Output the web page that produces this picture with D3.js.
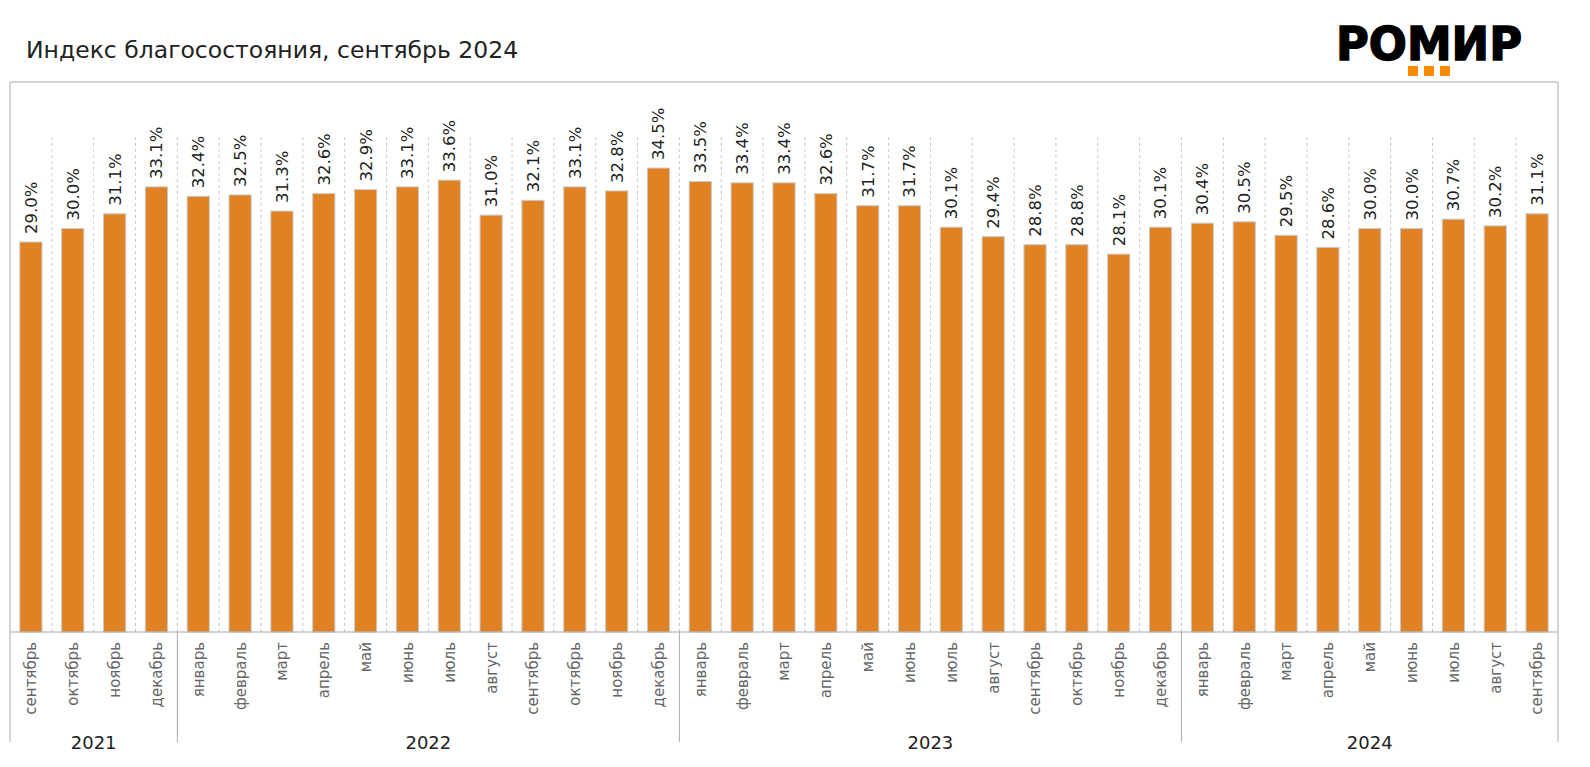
<!DOCTYPE html>
<html><head><meta charset="utf-8">
<script src="https://cdn.jsdelivr.net/npm/d3@7"></script>
<style>body{margin:0;background:#fff;}svg{display:block;font-family:"DejaVu Sans",sans-serif;}</style>
</head><body>
<svg id="c" width="1590" height="767"></svg>
<script>
const years = ["2021","2022","2023","2024"];
const months = [
  ["сентябрь","октябрь","ноябрь","декабрь"],
  ["январь","февраль","март","апрель","май","июнь","июль","август","сентябрь","октябрь","ноябрь","декабрь"],
  ["январь","февраль","март","апрель","май","июнь","июль","август","сентябрь","октябрь","ноябрь","декабрь"],
  ["январь","февраль","март","апрель","май","июнь","июль","август","сентябрь"]
];
const values = [
  29.0,30.0,31.1,33.1,
  32.4,32.5,31.3,32.6,32.9,33.1,33.6,31.0,32.1,33.1,32.8,34.5,
  33.5,33.4,33.4,32.6,31.7,31.7,30.1,29.4,28.8,28.8,28.1,30.1,
  30.4,30.5,29.5,28.6,30.0,30.0,30.7,30.2,31.1
];

const data = [];
months.forEach((ms, yi) => ms.forEach(m => data.push({year: years[yi], month: m})));
data.forEach((d, i) => { d.value = values[i]; d.key = i; });

const svg = d3.select("#c");
const L = 10, R = 1558, T = 82, B = 632, B2 = 742;

const x = d3.scaleBand().domain(data.map(d => d.key)).range([L, R]).paddingInner(0.47).paddingOuter(0.235);
const step = x.step();
const y = d3.scaleLinear().domain([0, 40.9]).range([B, T]);

// title
svg.append("text").attr("x", 26).attr("y", 58).attr("font-size", 23.5).attr("fill", "#222")
  .text("Индекс благосостояния, сентябрь 2024");

// logo
svg.append("text").attr("x", 1429).attr("y", 60).attr("text-anchor", "middle")
  .attr("font-family", "'DejaVu Sans', sans-serif").attr("font-weight", "bold").attr("font-size", 46)
  .attr("textLength", 186).attr("lengthAdjust", "spacingAndGlyphs")
  .attr("stroke", "#000").attr("stroke-width", 1.5)
  .attr("fill", "#000").text("РОМИР");
[1408, 1424, 1440].forEach(px => svg.append("rect").attr("x", px).attr("y", 66).attr("width", 10).attr("height", 10).attr("fill", "#FF8A00"));

// frame
svg.append("path").attr("d", `M${L},${B2}V${T}H${R}V${B2}`).attr("fill", "none").attr("stroke", "#aaa").attr("stroke-width", 1);

// dashed gridlines between bands
const gx = d3.range(1, data.length).map(i => L + i * step);
svg.append("g").selectAll("line").data(gx).join("line")
  .attr("x1", d => d).attr("x2", d => d).attr("y1", 137).attr("y2", B)
  .attr("stroke", "#c8c8c8").attr("stroke-dasharray", "3,3").attr("stroke-width", 1);

// bars
svg.append("g").selectAll("rect").data(data).join("rect")
  .attr("x", d => x(d.key)).attr("width", x.bandwidth())
  .attr("y", d => y(d.value)).attr("height", d => B - y(d.value))
  .attr("fill", "#E08224").attr("stroke", "#c9c9c9").attr("stroke-width", 1);

// value labels
svg.append("g").selectAll("text").data(data).join("text")
  .attr("transform", d => `translate(${x(d.key) + x.bandwidth() / 2},${y(d.value) - 8}) rotate(-90)`)
  .attr("dy", "0.36em")
  .attr("font-size", 16.5).attr("fill", "#222").text(d => d.value.toFixed(1) + "%");

// baseline
svg.append("line").attr("x1", L).attr("x2", R).attr("y1", B).attr("y2", B).attr("stroke", "#aaa");

// month labels
svg.append("g").selectAll("text").data(data).join("text")
  .attr("transform", d => `translate(${x(d.key) + x.bandwidth() / 2},${B + 10}) rotate(-90)`)
  .attr("dy", "0.36em")
  .attr("text-anchor", "end").attr("font-size", 15).attr("fill", "#666").text(d => d.month);

// year separators and labels
let idx = 0;
const seps = [];
const ylab = [];
months.forEach((ms, yi) => {
  const x0 = L + idx * step;
  idx += ms.length;
  const x1 = L + idx * step;
  if (yi > 0) seps.push(x0);
  ylab.push({t: years[yi], cx: (x0 + x1) / 2});
});
svg.append("g").selectAll("line").data(seps).join("line")
  .attr("x1", d => d).attr("x2", d => d).attr("y1", B).attr("y2", B2).attr("stroke", "#aaa");
svg.append("g").selectAll("text").data(ylab).join("text")
  .attr("x", d => d.cx).attr("y", 743).attr("text-anchor", "middle").attr("dy", "0.36em")
  .attr("font-size", 18).attr("fill", "#222").text(d => d.t);
</script>
</body></html>
